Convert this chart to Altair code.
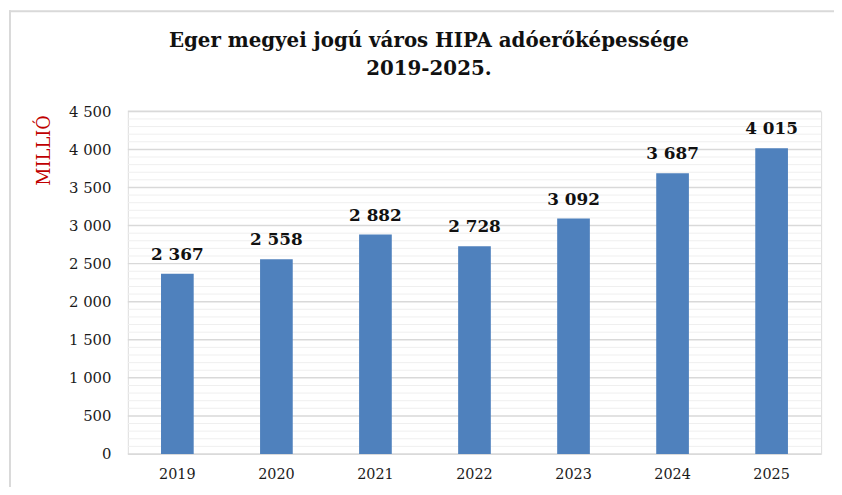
import altair as alt
import pandas as pd

years = ["2019", "2020", "2021", "2022", "2023", "2024", "2025"]
values = [2367, 2558, 2882, 2728, 3092, 3687, 4015]
major_ticks = [0, 500, 1000, 1500, 2000, 2500, 3000, 3500, 4000, 4500]
minor_ticks = [v for v in range(100, 4500, 100) if v % 500 != 0]

title_lines = ["Eger megyei jogú város HIPA adóerőképessége", "2019-2025."]
y_title = "MILLIÓ"

FONT = "DejaVu Serif"
W, H = 700, 346

df = pd.DataFrame({"year": years, "value": values})
minor_df = pd.DataFrame({"v": minor_ticks})
major_df = pd.DataFrame({"v": major_ticks})

yscale = alt.Scale(domain=[0, 4500], nice=False)
yaxis = alt.Axis(values=major_ticks, grid=False, domain=False, ticks=False,
                 labelFont=FONT, labelFontSize=15, labelColor="#1a1a1a",
                 labelPadding=17,
                 labelExpr="replace(format(datum.value, ','), ',', ' ')",
                 title=y_title, titleFont=FONT, titleFontSize=18,
                 titleFontWeight="normal", titleColor="#c00000",
                 titleAngle=-90, titleX=-84, titleY=39,
                 titleAlign="center", titleBaseline="middle")

minor = alt.Chart(minor_df).mark_rule(color="#efefef", strokeWidth=1).encode(
    y=alt.Y("v:Q", scale=yscale, axis=yaxis),
    x=alt.value(0), x2=alt.value(W),
)
major = alt.Chart(major_df).mark_rule(color="#d9d9d9", strokeWidth=1.5).encode(
    y=alt.Y("v:Q", scale=yscale, axis=yaxis),
    x=alt.value(0), x2=alt.value(W),
)

bars = alt.Chart(df).mark_bar(color="#4f81bd").encode(
    x=alt.X("year:N", sort=years, scale=alt.Scale(paddingInner=0.67, paddingOuter=0.335),
            axis=alt.Axis(title=None, labelAngle=0, domain=False, ticks=False,
                          labelFont=FONT, labelFontSize=14.5, labelColor="#1a1a1a",
                          labelPadding=14)),
    y=alt.Y("value:Q", scale=yscale, axis=yaxis),
)

labels = alt.Chart(df).transform_calculate(
    lab="replace(format(datum.value, ','), ',', ' ')"
).mark_text(font=FONT, fontSize=17, fontWeight="bold", color="#111111",
            baseline="alphabetic", dy=-14).encode(
    x=alt.X("year:N", sort=years),
    y=alt.Y("value:Q", scale=yscale, axis=yaxis),
    text="lab:N",
)

border_left = alt.Chart(major_df.head(1)).mark_rule(color="#d9d9d9", strokeWidth=2).encode(
    x=alt.value(-119), y=alt.value(-102), y2=alt.value(H + 60)
)
border_top = alt.Chart(major_df.head(1)).mark_rule(color="#d9d9d9", strokeWidth=2).encode(
    y=alt.value(-101), x=alt.value(-120), x2=alt.value(W + 40)
)

chart = alt.layer(minor, major, bars, labels, border_left, border_top).properties(
    width=W, height=H,
    autosize=alt.AutoSizeParams(type="none"),
    padding={"left": 121, "top": 102, "right": 13, "bottom": 31},
    title=alt.TitleParams(text=title_lines, font=FONT, fontSize=20, fontWeight="bold",
                          color="#111111", anchor="middle", dx=-46, offset=27, dy=97,
                          lineHeight=28),
).configure_view(stroke=None).configure(background="white")

chart.save("out.html", embed_options={"renderer": "svg", "actions": False})
